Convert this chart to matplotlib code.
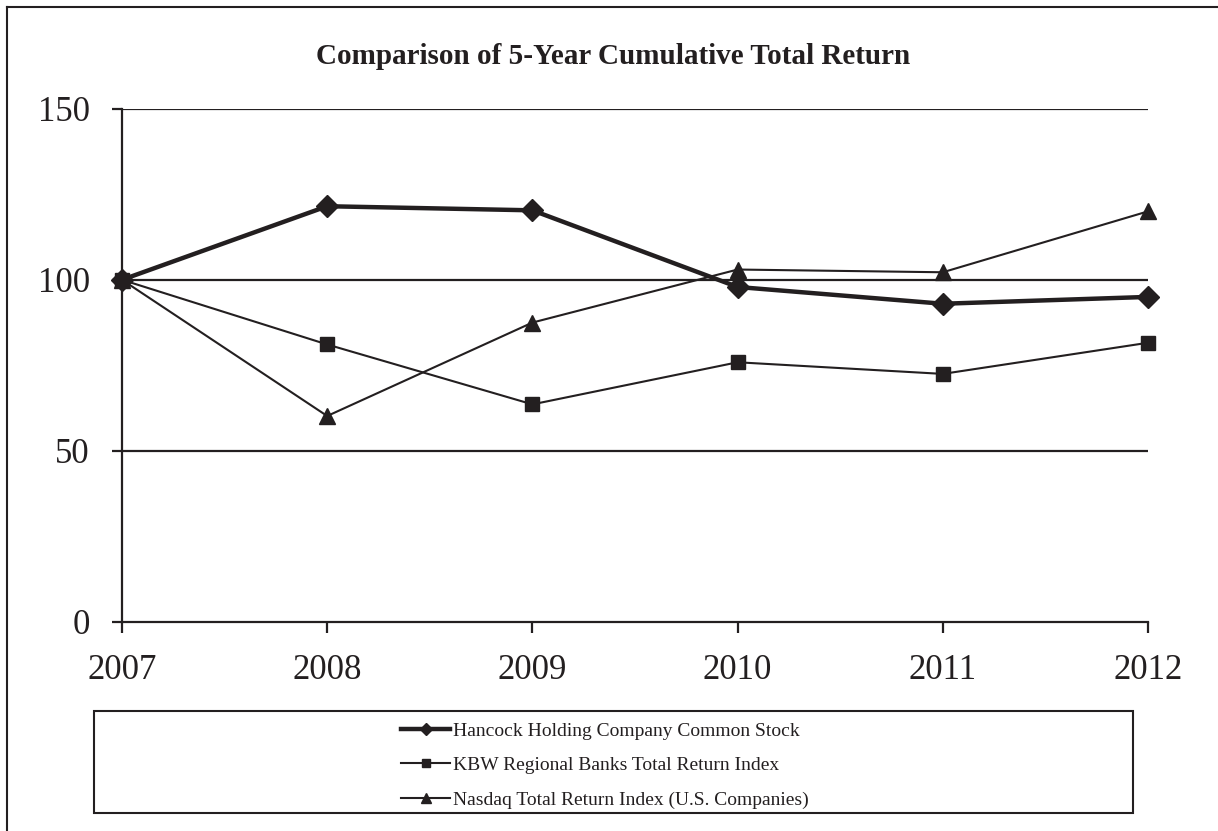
import matplotlib
matplotlib.use("Agg")
import matplotlib.pyplot as plt
from matplotlib.patches import Rectangle
from matplotlib.lines import Line2D

years = ["2007", "2008", "2009", "2010", "2011", "2012"]
hancock = [100, 121.5, 120.3, 97.9, 93.0, 95.0]
kbw = [100, 81.1, 63.6, 75.9, 72.5, 81.6]
nasdaq = [100, 60.2, 87.5, 103.0, 102.2, 120.0]
series_names = ["Hancock Holding Company Common Stock",
                "KBW Regional Banks Total Return Index",
                "Nasdaq Total Return Index (U.S. Companies)"]
y_ticks = [0, 50, 100, 150]
title = "Comparison of 5-Year Cumulative Total Return"

plt.rcParams['font.family'] = ['Liberation Serif', 'DejaVu Serif']
W, H = 1218, 831
fig = plt.figure(figsize=(W / 100, H / 100), dpi=100)
ink = "#231f20"

def fx(px):
    return px / W

def fy(py):
    return 1 - py / H

# outer frame (left and top edges)
fig.add_artist(Line2D([fx(7), fx(7)], [0, fy(7)], color=ink, lw=1.5))
fig.add_artist(Line2D([fx(7), 1], [fy(7), fy(7)], color=ink, lw=1.5))

ax = fig.add_axes([fx(122), fy(622), fx(1148) - fx(122), fy(108.7) - fy(622)])
x = list(range(len(years)))
ax.set_xlim(0, len(years) - 1)
ax.set_ylim(0, 150)

for v in y_ticks[1:]:
    ax.axhline(v, color=ink, lw=1.6, zorder=1)

ax.plot(x, hancock, color=ink, lw=3.2, marker="D", ms=11, clip_on=False, zorder=5,
        label=series_names[0])
ax.plot(x, kbw, color=ink, lw=1.5, marker="s", ms=10, clip_on=False, zorder=4,
        label=series_names[1])
ax.plot(x, nasdaq, color=ink, lw=1.5, marker="^", ms=12, clip_on=False, zorder=4,
        label=series_names[2])

for s in ["top", "right"]:
    ax.spines[s].set_visible(False)
for s in ["left", "bottom"]:
    ax.spines[s].set_color(ink)
    ax.spines[s].set_linewidth(1.6)

ax.set_yticks(y_ticks)
ax.set_xticks(x)
ax.set_xticklabels(years)
ax.tick_params(axis="y", direction="out", length=7, width=1.6, color=ink,
               labelsize=25, pad=16, labelcolor=ink)
ax.tick_params(axis="x", direction="out", length=8, width=1.6, color=ink,
               labelsize=25, pad=15, labelcolor=ink)

fig.text(fx(613), fy(56), title, ha="center", va="center", fontsize=21,
         fontweight="bold", color=ink)

# legend box
fig.add_artist(Rectangle((fx(94), fy(813)), fx(1133) - fx(94), fy(711) - fy(813),
                         transform=fig.transFigure, fill=False, edgecolor=ink, lw=1.5))
leg = fig.legend(loc="center", bbox_to_anchor=(fx(605), fy(765.5)), frameon=False,
                 fontsize=14, markerscale=0.6, handlelength=2.5, handletextpad=0.15,
                 labelspacing=0.88, borderpad=0)
for t in leg.get_texts():
    t.set_color(ink)

fig.savefig("out.png", dpi=100)
